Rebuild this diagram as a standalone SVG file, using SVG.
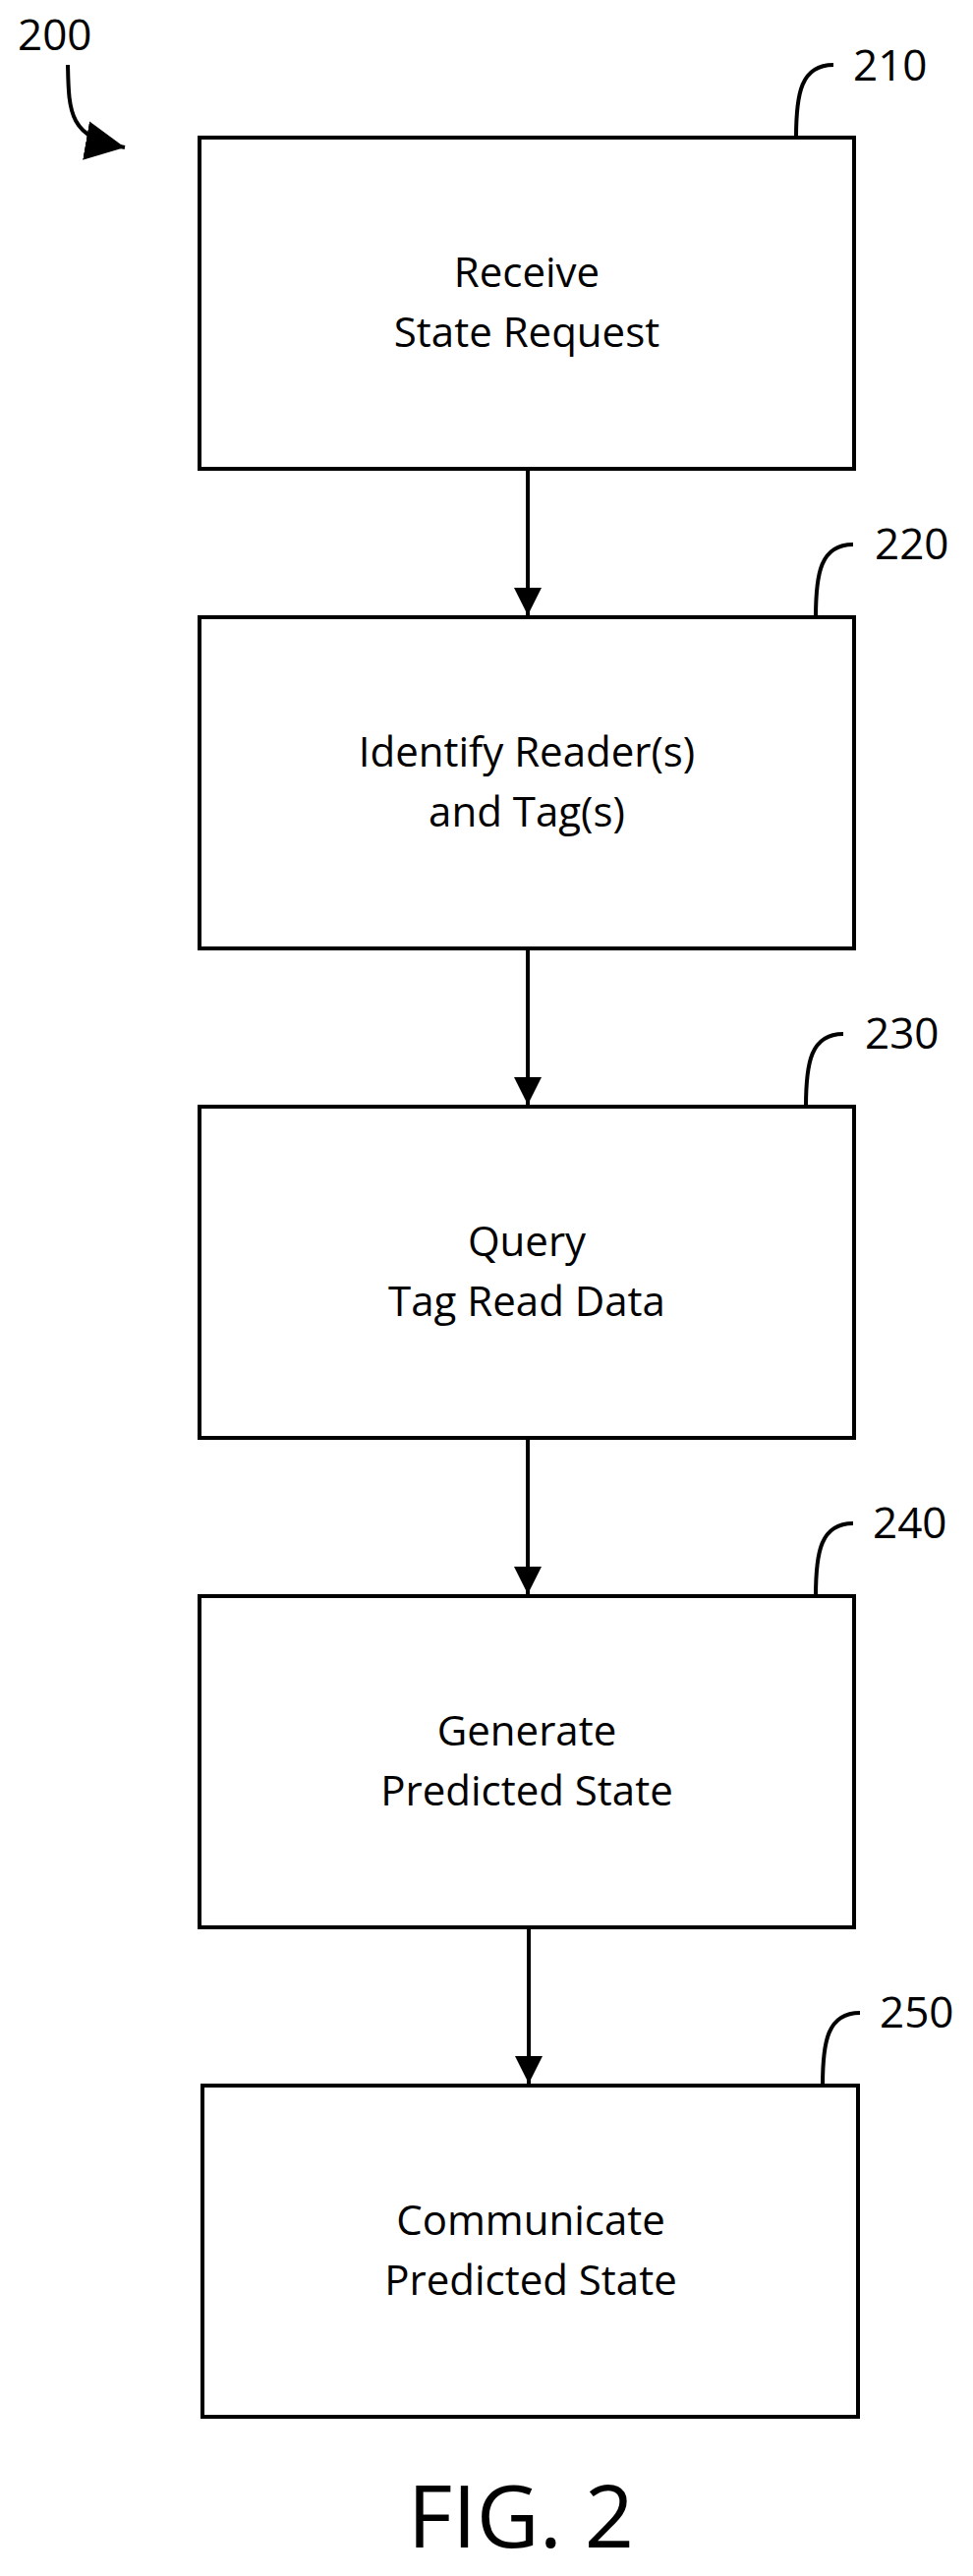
<svg xmlns="http://www.w3.org/2000/svg" width="990" height="2621" viewBox="0 0 990 2621">
<style>
.box{fill:#fff;stroke:#000;stroke-width:4}
.t{font-family:"Open Sans","Liberation Sans",sans-serif;font-size:42px;text-anchor:middle;fill:#000}
.ref{font-family:"Open Sans","Liberation Sans",sans-serif;font-size:44px;fill:#000}
.ld{fill:none;stroke:#000;stroke-width:4}
.c{stroke:#000;stroke-width:4;fill:none}
</style>
<defs>
<marker id="a2" viewBox="0 0 10 10" refX="10" refY="5" markerWidth="28" markerHeight="28" orient="auto" markerUnits="userSpaceOnUse"><path d="M0,0 L10,5 L0,10 z"/></marker>
<marker id="a3" viewBox="0 0 10 10" refX="10" refY="5" markerWidth="40" markerHeight="40" orient="auto" markerUnits="userSpaceOnUse"><path d="M0,0 L10,5 L0,10 z"/></marker></defs>
<text class="ref" x="18" y="51">200</text>
<path class="c" d="M69,66 C70,115 70,140 127,150" marker-end="url(#a3)"/>
<g id="n210"><rect class="box" x="203" y="140" width="666" height="337"/><text class="t" x="536" y="292">Receive</text><text class="t" x="536" y="353">State Request</text><path class="ld" d="M810,140 C810,95 815,66 848,66"/><text class="ref" x="868" y="82">210</text></g>
<g id="n220"><rect class="box" x="203" y="628" width="666" height="337"/><text class="t" x="536" y="780">Identify Reader(s)</text><text class="t" x="536" y="841">and Tag(s)</text><path class="ld" d="M830,628 C830,583 835,554 868,554"/><text class="ref" x="890" y="569">220</text></g>
<g id="n230"><rect class="box" x="203" y="1126" width="666" height="337"/><text class="t" x="536" y="1278">Query</text><text class="t" x="536" y="1339">Tag Read Data</text><path class="ld" d="M820,1126 C820,1081 825,1052 858,1052"/><text class="ref" x="880" y="1067">230</text></g>
<g id="n240"><rect class="box" x="203" y="1624" width="666" height="337"/><text class="t" x="536" y="1776">Generate</text><text class="t" x="536" y="1837">Predicted State</text><path class="ld" d="M830,1624 C830,1579 835,1550 868,1550"/><text class="ref" x="888" y="1565">240</text></g>
<g id="n250"><rect class="box" x="206" y="2122" width="667" height="337"/><text class="t" x="540" y="2274">Communicate</text><text class="t" x="540" y="2335">Predicted State</text><path class="ld" d="M837,2122 C837,2077 842,2048 875,2048"/><text class="ref" x="895" y="2063">250</text></g>
<g id="connectors">
<path class="c" d="M537,477 V626" marker-end="url(#a2)"/>
<path class="c" d="M537,965 V1124" marker-end="url(#a2)"/>
<path class="c" d="M537,1463 V1622" marker-end="url(#a2)"/>
<path class="c" d="M538,1961 V2120" marker-end="url(#a2)"/>
</g>
<text x="530" y="2592" font-family="Open Sans, Liberation Sans, sans-serif" font-size="88" text-anchor="middle">FIG. 2</text>
</svg>
